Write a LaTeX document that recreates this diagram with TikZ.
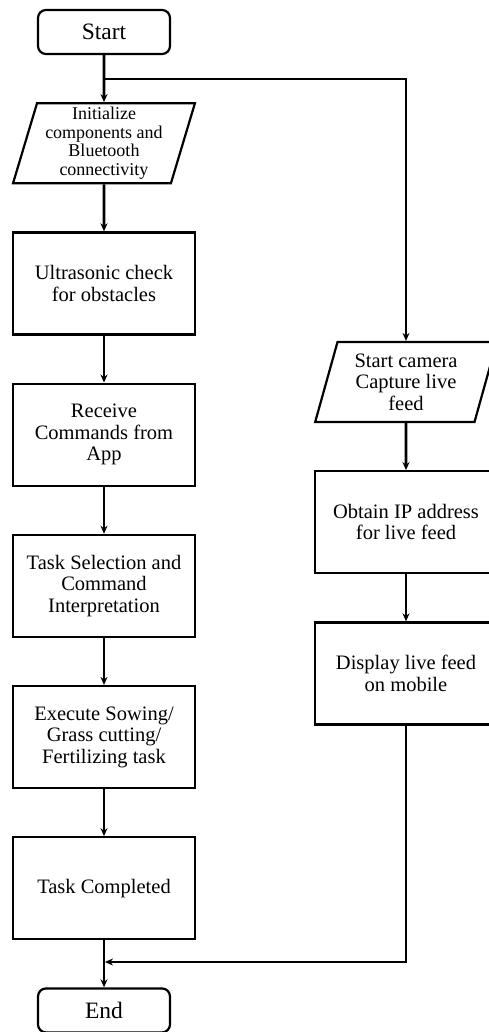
\documentclass[tikz,border=0pt]{standalone}
\usepackage{fontspec}
\setmainfont{Liberation Serif}
\usetikzlibrary{shapes.geometric, arrows.meta, positioning}
\tikzstyle{startstop} = [rectangle, rounded corners=8pt, 
minimum width=132pt, 
minimum height=44pt,
text centered, 
line width=2.2pt,
font=\fontsize{23.5}{24}\selectfont,
draw=black]
\tikzstyle{io} = [trapezium, 
trapezium stretches=true,
trapezium left angle=74, 
trapezium right angle=106, 
minimum width=182pt, 
minimum height=80pt, align=center, 
inner sep=2pt,
line width=2.2pt,
font=\fontsize{20.5}{21.5}\selectfont,
draw=black]
\tikzstyle{process} = [rectangle, 
minimum width=182pt, 
minimum height=102pt, 
align=center, 
line width=2.2pt,
font=\fontsize{20.5}{21.5}\selectfont,
draw=black]
\tikzstyle{arrow} = [line width=2.6pt,-{Stealth[length=8pt,width=7pt]}]
\tikzstyle{link} = [line width=2pt,-{Stealth[length=8pt,width=7pt]}]

\begin{document}
\begin{tikzpicture}[node distance=47pt, auto]
        \useasboundingbox (0,0) rectangle (489pt,-1032pt);

        % --- Nodos (columna izquierda) ---
        \node (start) [startstop] at (104pt,-32pt) {Start};
        \node (init) [io, below=of start, font=\fontsize{18}{18.5}\selectfont] {Initialize\\components and\\Bluetooth\\connectivity};
        \node (ultra) [process, below=of init] {Ultrasonic check\\for obstacles};
        \node (receive) [process, below=of ultra] {Receive\\Commands from\\App};
        \node (select) [process, below=of receive] {Task Selection and\\Command\\Interpretation};
        \node (execute) [process, below=of select] {Execute Sowing/\\Grass cutting/\\Fertilizing task};
        \node (done) [process, below=of execute] {Task Completed};
        \node (stop) [startstop, below=of done] {End};

        % --- Nodos (columna derecha) ---
        \node (camera) [io] at (406pt,-382pt) {Start camera\\Capture live\\feed};
        \node (ipaddr) [process, below=of camera] {Obtain IP address\\for live feed};
        \node (display) [process, below=of ipaddr] {Display live feed\\on mobile};

        \coordinate (fork) at (104pt,-79pt);
        \coordinate (join) at (105pt,-962pt);

        % --- Conexiones ---
        \draw [arrow] (start) -- (init);
        \draw [arrow] (init) -- (ultra);
        \draw [arrow] (ultra) -- (receive);
        \draw [arrow] (receive) -- (select);
        \draw [arrow] (select) -- (execute);
        \draw [arrow] (execute) -- (done);
        \draw [arrow] (done) -- (stop);

        \draw [link] (fork) -| (camera);
        \draw [arrow] (camera) -- (ipaddr);
        \draw [arrow] (ipaddr) -- (display);
        \draw [link] (display) |- (join);

    \end{tikzpicture}
\end{document}
